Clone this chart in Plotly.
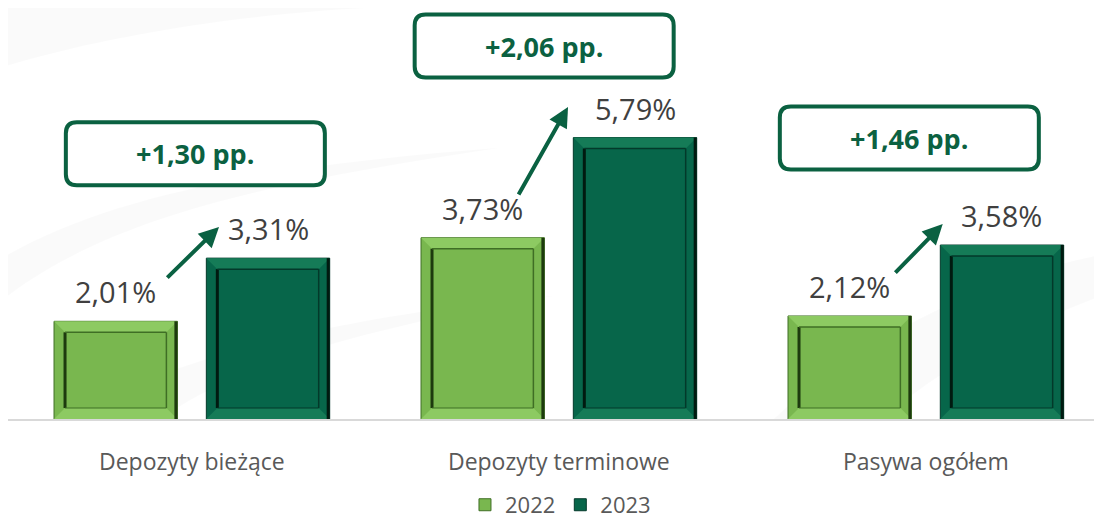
import plotly.graph_objects as go

# ---------------- data ----------------
categories = ["Depozyty bieżące", "Depozyty terminowe", "Pasywa ogółem"]
years = ["2022", "2023"]
values_2022 = [2.01, 3.73, 2.12]
values_2023 = [3.31, 5.79, 3.58]

# ---------------- layout / style constants ----------------
# the page body adds an 8px offset, so the figure is sized to fit the window
FIG_W, FIG_H = 1094, 511
M_L, M_R, M_T, M_B = 0, 0, 0, 100
X_RANGE = [-0.501, 2.480]
Y_RANGE = [0, 8.457]
BARGAP, GROUPGAP = 0.17, 0.19
FONT = "Open Sans"

LIGHT = dict(base="#79b74f", strip="#8dca62", line="#3f6e25", edge="#1d3a0e")
DARK = dict(base="#07664a", strip="#157b57", line="#03392a", edge="#011a10")
BOX_COLOR = "#0b6141"
ARROW_COLOR = "#0a6142"

# callout (box) placement relative to category / 2023 value
box_dx = [0.0095, -0.040, -0.045]
box_dy = [2.15, 1.885, 2.20]
# arrow placement relative to category / values
arrow_tail_dx = [-0.071, -0.112, -0.087]
arrow_tail_dy = [0.87, 0.86, 0.86]
arrow_head_dx = [0.074, 0.025, 0.046]
arrow_head_dy = [0.64, 0.63, 0.43]

plot_w = FIG_W - M_L - M_R
plot_h = FIG_H - M_T - M_B
px_x = plot_w / (X_RANGE[1] - X_RANGE[0])
px_y = plot_h / (Y_RANGE[1] - Y_RANGE[0])
slot = (1 - BARGAP) / 2
bar_off = slot / 2
bar_w_px = slot * (1 - GROUPGAP) * px_x

xs = list(range(len(categories)))

fig = go.Figure()
fig.add_trace(go.Bar(x=xs, y=values_2022, name=years[0],
                     marker=dict(color=LIGHT["base"], line=dict(width=1, color=LIGHT["line"])),
                     hoverinfo="skip"))
fig.add_trace(go.Bar(x=xs, y=values_2023, name=years[1],
                     marker=dict(color=DARK["base"], line=dict(width=1, color=DARK["line"])),
                     hoverinfo="skip"))

shapes = []

# faint decorative background swooshes
bg = [
    "M 0,0.86 C 0.15,0.98 0.35,1.02 0.45,1.0 L 0,1.0 Z",
    "M 0,0.40 C 0.10,0.55 0.25,0.62 0.45,0.66 C 0.25,0.58 0.10,0.50 0,0.30 Z",
    "M 0.05,0.0 C 0.15,0.15 0.30,0.25 0.50,0.30 C 0.32,0.22 0.20,0.12 0.14,0.0 Z",
    "M 0.70,0.0 C 0.78,0.20 0.90,0.35 1.0,0.40 L 1.0,0.30 C 0.92,0.22 0.85,0.12 0.80,0.0 Z",
]
for p in bg:
    shapes.append(dict(type="path", xref="paper", yref="paper", path=p,
                       fillcolor="rgba(0,0,0,0.02)", line=dict(width=0), layer="below"))

# bevel details for each bar
f_px = 11
f_y = f_px / px_y
h = bar_w_px / 2


def P(pts, close=True):
    s = "M " + " L ".join(f"{a:.2f},{b:.4f}" for a, b in pts)
    return s + (" Z" if close else "")


for vals, sign, col in ((values_2022, -1, LIGHT), (values_2023, 1, DARK)):
    for i, v in enumerate(vals):
        cx = i + sign * bar_off
        common = dict(type="path", xref="x", yref="y", xsizemode="pixel", xanchor=cx,
                      layer="above")
        shapes.append(dict(common, path=P([(-h, v), (h, v), (h - f_px, v - f_y), (-h + f_px, v - f_y)]),
                           fillcolor=col["strip"], line=dict(width=0)))
        shapes.append(dict(common, path=P([(-h, 0), (h, 0), (h - f_px, f_y), (-h + f_px, f_y)]),
                           fillcolor=col["strip"], line=dict(width=0)))
        shapes.append(dict(common, path=P([(-h + f_px, f_y), (-h + f_px, v - f_y)], False),
                           line=dict(width=3, color=col["edge"])))
        shapes.append(dict(common, path=P([(-h + f_px, v - f_y), (h - f_px, v - f_y)], False),
                           line=dict(width=1.5, color=col["line"])))
        shapes.append(dict(common, path=P([(h - f_px, f_y), (h - f_px, v - f_y)], False),
                           line=dict(width=1.5, color=col["line"])))
        shapes.append(dict(common, path=P([(-h + f_px, f_y), (h - f_px, f_y)], False),
                           line=dict(width=1, color=col["line"])))
        shapes.append(dict(common, path=P([(h - 1.5, 0), (h - 1.5, v)], False),
                           line=dict(width=3, color=col["edge"])))

# rounded callout boxes
BW, BH, R = 259, 63, 11
w2, h2 = BW / 2, BH / 2
box_path = (f"M {-w2+R},{-h2} L {w2-R},{-h2} Q {w2},{-h2} {w2},{-h2+R} "
            f"L {w2},{h2-R} Q {w2},{h2} {w2-R},{h2} L {-w2+R},{h2} Q {-w2},{h2} {-w2},{h2-R} "
            f"L {-w2},{-h2+R} Q {-w2},{-h2} {-w2+R},{-h2} Z")

annotations = []
for i in xs:
    v1, v2 = values_2022[i], values_2023[i]
    for xv, v in ((i - bar_off, v1), (i + bar_off, v2)):
        annotations.append(dict(x=xv, y=v, xref="x", yref="y", yanchor="bottom",
                                yshift=8, showarrow=False,
                                text=f"{v:.2f}".replace(".", ",") + "%",
                                font=dict(family=FONT, size=29, color="#404040")))
    bx, by = i + box_dx[i], v2 + box_dy[i]
    shapes.append(dict(type="path", xref="x", yref="y", xsizemode="pixel", ysizemode="pixel",
                       xanchor=bx, yanchor=by, path=box_path,
                       fillcolor="rgba(255,255,255,0.85)", line=dict(width=4, color=BOX_COLOR),
                       layer="above"))
    diff = v2 - v1
    annotations.append(dict(x=bx, y=by, xref="x", yref="y", showarrow=False,
                            text="<b>+" + f"{diff:.2f}".replace(".", ",") + " pp.</b>",
                            font=dict(family=FONT, size=27, color=BOX_COLOR)))
    annotations.append(dict(x=i + arrow_head_dx[i], y=v2 + arrow_head_dy[i],
                            ax=i + arrow_tail_dx[i], ay=v1 + arrow_tail_dy[i],
                            xref="x", yref="y", axref="x", ayref="y",
                            text="", showarrow=True, arrowhead=2, arrowsize=1,
                            arrowwidth=4, arrowcolor=ARROW_COLOR, standoff=0, startstandoff=0))

fig.update_layout(
    width=FIG_W, height=FIG_H,
    margin=dict(l=M_L, r=M_R, t=M_T, b=M_B, autoexpand=False),
    paper_bgcolor="white", plot_bgcolor="rgba(0,0,0,0)",
    barmode="group", bargap=BARGAP, bargroupgap=GROUPGAP,
    showlegend=True,
    legend=dict(orientation="h", x=0.505, xanchor="center", y=-0.158, yanchor="top",
                font=dict(family=FONT, size=22, color="#595959"),
                bgcolor="rgba(0,0,0,0)", itemclick=False),
    xaxis=dict(range=X_RANGE, tickmode="array", tickvals=xs, ticktext=categories,
               showline=True, linecolor="#d9d9d9", linewidth=2, showgrid=False,
               zeroline=False, ticks="", ticklabelstandoff=21,
               tickfont=dict(family=FONT, size=23, color="#595959"), fixedrange=True),
    yaxis=dict(range=Y_RANGE, visible=False, fixedrange=True),
    shapes=shapes, annotations=annotations,
    font=dict(family=FONT),
)

fig.write_html("out.html")
